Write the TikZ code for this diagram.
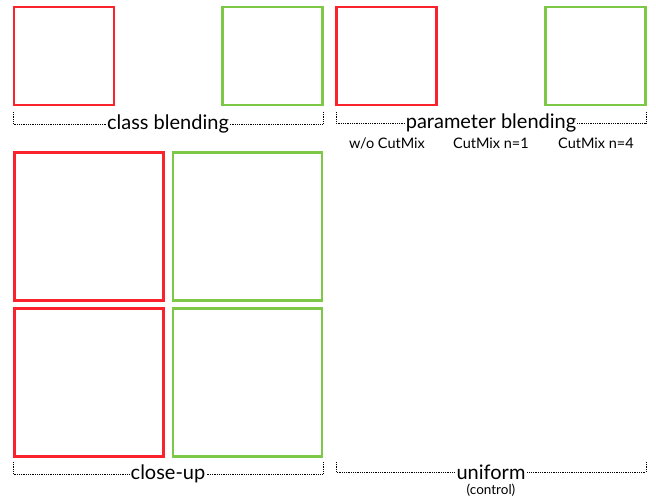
\documentclass[tikz,border=0pt]{standalone}
\usepackage{fontspec}
\setmainfont{Lato}
\definecolor{boxred}{RGB}{250,35,45}
\definecolor{boxgreen}{RGB}{125,200,70}
\tikzset{
  img/.style={draw, line width=2.7pt, minimum width=100pt, minimum height=98pt, inner sep=0pt},
  big/.style={img, minimum width=149pt, minimum height=148pt},
  brace/.style={draw, densely dotted, line width=0.8pt},
  lbl/.style={font=\fontsize{20}{20}\selectfont, inner xsep=1pt, inner ysep=0pt},
  sub/.style={font=\fontsize{14.5}{14.5}\selectfont, inner sep=0pt}
}
\begin{document}
\begin{tikzpicture}[x=1pt,y=-1pt]
\useasboundingbox (0,0) rectangle (656,500);

% top row
\node[img, boxred] (cr) at (64,56) {};
\node[img, boxgreen] (cg) at (272.5,56) {};
\node[img, boxred] (pr) at (386.5,56) {};
\node[img, boxgreen] (pg) at (595.5,56) {};

% close-up
\node[big, boxred] (ur) at (89,226.5) {};
\node[big, boxgreen] (ug) at (247.5,226.5) {};
\node[big, boxred] (lr) at (89,382.5) {};
\node[big, boxgreen] (lg) at (247.5,382.5) {};

% labels
\node[lbl] (class) at (168,124) {class blending};
\node[lbl] (param) at (491,123) {parameter blending};
\node[lbl] (close) at (168,474) {close-up};
\node[lbl] (unif) at (491,472) {uniform};
\node[sub] (ctl) at (491,490) {\fontsize{13.5}{13.5}\selectfont(control)};

\node[sub] (n0) at (387,143) {w/o CutMix};
\node[sub] (n1) at (491,143) {CutMix n=1};
\node[sub] (n4) at (596,143) {CutMix n=4};

% brackets
\coordinate (a1) at (13,112);  \coordinate (b1) at (323,112);
\coordinate (a2) at (336,112); \coordinate (b2) at (646,112);
\coordinate (a3) at (13,462);  \coordinate (b3) at (323,462);
\coordinate (a4) at (336,462); \coordinate (b4) at (646,462);

\path[brace] (a1) |- (class.west);
\path[brace] (b1) |- (class.east);
\path[brace] (a2) |- (param.west);
\path[brace] (b2) |- (param.east);
\path[brace] (a3) |- (close.west);
\path[brace] (b3) |- (close.east);
\path[brace] (a4) |- (unif.west);
\path[brace] (b4) |- (unif.east);
\end{tikzpicture}
\end{document}
